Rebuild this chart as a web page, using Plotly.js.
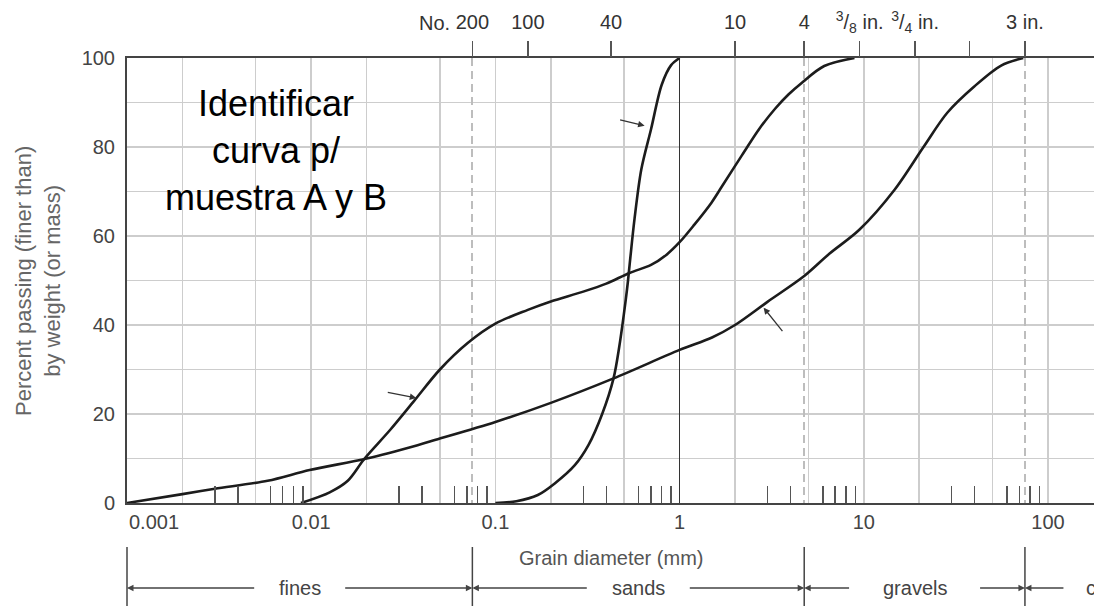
<!DOCTYPE html>
<html><head><meta charset="utf-8">
<script src="https://cdn.plot.ly/plotly-3.0.1.min.js"></script>
<style>html,body{margin:0;padding:0;background:#fff}#chart{width:1094px;height:606px}</style>
</head><body><div id="chart"></div>
<script>
// ---- data (grain diameter in mm, percent passing) ----
const sizeSteep = [0.1,0.13,0.17,0.21,0.27,0.32,0.38,0.438,0.47,0.51,0.525,0.54,0.57,0.62,0.70,0.80,0.90,1.0];
const passSteep = [0,0.4,1.8,4.4,8.5,13,20,28,35,45.6,50,55,64,75,84,94,98.4,100];
const sizeGap = [0.0088,0.0126,0.0158,0.0195,0.0268,0.0363,0.05,0.071,0.1,0.15,0.2,0.3,0.4,0.535,0.7,0.85,1.0,1.2,1.49,1.69,2.17,2.7,3.3,3.9,4.6,6.1,8.9];
const passGap = [0,2.4,5,10,16.4,23,30,36,40.3,43.4,45.3,47.5,49.3,51.7,53.5,55.8,58.6,62.5,67.5,71,78,84,88.6,91.8,94.4,98.2,100];
const sizeWell = [0.001,0.002,0.003,0.0058,0.0098,0.02,0.0378,0.0474,0.1,0.2,0.438,1.0,1.5,2.0,3.0,4.75,6.5,9.46,14.7,21.1,28.4,39.8,55.7,73.4];
const passWell = [0,2,3.2,5,7.4,10,13,14.2,18.2,22.5,28,34.4,37.2,40,45.2,51,56,61.4,70.4,80,87.7,93.6,98.3,100];

// ---- axis ticks ----
const gridVals = [0.002,0.005,0.01,0.02,0.05,0.1,0.2,0.5,1,2,5,10,20,50,100];
const decadeVals = [0.01,0.1,1,10,100];
const decadeLabels = ['0.01','0.1','1','10','100'];
const firstDecadeLabel = '0.001';
const minorVals = [0.003,0.004,0.006,0.007,0.008,0.009,
                   0.03,0.04,0.06,0.07,0.08,0.09,
                   0.3,0.4,0.6,0.7,0.8,0.9,
                   3,4,6,7,8,9,
                   30,40,60,70,80,90];
const sieveSizes = [0.075,0.15,0.425,2.0,4.75,9.5,19,37.5,75];
const sieveLabels = ['200','100','40','10','4','<sup>3</sup>/<sub>8</sub> in.','<sup>3</sup>/<sub>4</sub> in.','','3 in.'];
const sieveLabelPrefix = 'No.';
const boundaryVals = [0.075,4.75,75];
const yVals = [0,10,20,30,40,50,60,70,80,90,100];
const yLabels = ['0','','20','','40','','60','','80','','100'];
const classBounds = [0.001,0.075,4.75,75];
const classNames = ['fines','sands','gravels'];
const lastClassName = 'cobbles';

// ---- geometry helpers ----
const X0 = -3, X1 = 2.25;
const L = 127, T = 58, W = 1094 - 127, H = 445;
const lg = Math.log10;
const pxOf = v => L + (lg(v) - X0) / (X1 - X0) * W;
const pX = p => (p - L) / W;
const pY = p => (T + H - p) / H;

const FONT = 'Liberation Sans, Arial, Helvetica, sans-serif';
const curveLine = {color:'#1c1c1c', width:2.6, shape:'spline', smoothing:0.9};
const traces = [
  {x:sizeWell, y:passWell, mode:'lines', line:curveLine, hoverinfo:'skip', name:'well'},
  {x:sizeGap, y:passGap, mode:'lines', line:curveLine, hoverinfo:'skip', name:'gap'},
  {x:sizeSteep, y:passSteep, mode:'lines', line:curveLine, hoverinfo:'skip', name:'uniform'}
];
// carrier traces so that the overlay axes get drawn
[['x2',sieveSizes],['x3',minorVals],['x4',boundaryVals],['x5',decadeVals]].forEach(a => traces.push(
  {x:a[1], y:a[1].map(() => null), xaxis:a[0], yaxis:'y', mode:'lines', hoverinfo:'skip', showlegend:false}));

// white patches where original labels were erased
const eraseBoxes = [[128,71,422,228],[420,88,617,150],[131,362,389,424],[781,318,1036,380]];
const shapes = eraseBoxes.map(b => ({type:'rect', xref:'paper', yref:'paper',
  x0:pX(b[0]), x1:pX(b[2]), y0:pY(b[3]), y1:pY(b[1]), fillcolor:'#ffffff', line:{width:0}, layer:'between'}));
// bracket separators
classBounds.forEach(v => shapes.push({type:'line', xref:'paper', yref:'paper',
  x0:pX(pxOf(v)), x1:pX(pxOf(v)), y0:pY(547), y1:pY(610), line:{color:'#444', width:1.5}}));

const annotations = [];
const A = o => annotations.push(Object.assign({xanchor:'center', yanchor:'middle'}, o));
A({xref:'paper', yref:'paper', x:pX(276), y:pY(150), text:'Identificar<br>curva p/<br>muestra A y B',
  showarrow:false, align:'center', font:{family:FONT, size:36, color:'#000'}});
A({xref:'paper', yref:'paper', x:pX(38), y:pY(281), text:'Percent passing (finer than)<br>by weight (or mass)',
  textangle:-90, showarrow:false, font:{family:FONT, size:22, color:'#666'}});
A({xref:'paper', yref:'paper', x:pX(611), y:pY(558), text:'Grain diameter (mm)',
  showarrow:false, font:{family:FONT, size:20, color:'#555'}});
A({xref:'x', yref:'paper', x:lg(classBounds[0]), xanchor:'left', y:pY(522), text:firstDecadeLabel,
  showarrow:false, font:{family:FONT, size:20, color:'#444'}});
A({xref:'x', yref:'paper', x:lg(sieveSizes[0]), xanchor:'right', xshift:-20, y:pY(23), text:sieveLabelPrefix,
  showarrow:false, font:{family:FONT, size:20, color:'#333'}});
// pointer arrows left near the curves
const pointers = [[0.646,84.8,-26,-6],[0.0372,23.6,-30,-6],[2.86,43.9,20,25]];
pointers.forEach(p => annotations.push({xref:'x', yref:'y', x:lg(p[0]), y:p[1], ax:p[2], ay:p[3], text:'',
  showarrow:true, arrowhead:2, arrowsize:1, arrowwidth:1.3, arrowcolor:'#333'}));
// soil class brackets
const gaps = [44,50,64];
const yB = pY(588);
const arrowStyle = {showarrow:true, arrowhead:2, arrowsize:1, arrowwidth:1.3, arrowcolor:'#444', standoff:0, text:''};
classNames.forEach((n,i) => {
  const a = pxOf(classBounds[i]), b = pxOf(classBounds[i+1]);
  const c = (a + b) / 2;
  A({xref:'paper', yref:'paper', x:pX(c), y:yB, text:n, showarrow:false,
    font:{family:FONT, size:20, color:'#444'}});
  annotations.push(Object.assign({xref:'paper', yref:'paper', x:pX(a), y:yB, ax:(c-gaps[i])-a, ay:0}, arrowStyle));
  annotations.push(Object.assign({xref:'paper', yref:'paper', x:pX(b), y:yB, ax:(c+gaps[i])-b, ay:0}, arrowStyle));
});
const lastB = pxOf(classBounds[3]);
annotations.push(Object.assign({xref:'paper', yref:'paper', x:pX(lastB), y:yB, ax:40, ay:0}, arrowStyle));
A({xref:'paper', yref:'paper', x:pX(1084), xanchor:'left', y:yB, text:lastClassName, showarrow:false,
  font:{family:FONT, size:20, color:'#444'}});

const baseX = {type:'log', range:[X0,X1], fixedrange:true, zeroline:false};
const layout = {
  width:1094, height:606,
  margin:{l:L, r:0, t:T, b:606-T-H},
  paper_bgcolor:'#fff', plot_bgcolor:'#fff',
  showlegend:false,
  font:{family:FONT},
  xaxis:Object.assign({}, baseX, {
    tickvals:gridVals,
    ticktext:gridVals.map(v => { const k = decadeVals.indexOf(v); return k >= 0 ? decadeLabels[k] : ''; }),
    ticks:'', showgrid:true, gridcolor:'#cdcdcd', gridwidth:1.5,
    showline:true, mirror:true, linecolor:'#444', linewidth:2,
    tickfont:{size:20, color:'#444'}, ticklabelstandoff:0
  }),
  xaxis2:Object.assign({}, baseX, {
    overlaying:'x', anchor:'y', side:'top', tickvals:sieveSizes, ticktext:sieveLabels,
    ticks:'outside', ticklen:16, tickwidth:1.5, tickcolor:'#555',
    showgrid:false, showline:false, tickfont:{size:20, color:'#333'}, ticklabelstandoff:4
  }),
  xaxis3:Object.assign({}, baseX, {
    overlaying:'x', anchor:'y', side:'bottom', tickvals:minorVals,
    ticks:'inside', ticklen:17, tickwidth:1.5, tickcolor:'#555',
    showticklabels:false, showgrid:false, showline:false
  }),
  xaxis4:Object.assign({}, baseX, {
    overlaying:'x', anchor:'y', tickvals:boundaryVals, ticks:'', showticklabels:false,
    showgrid:true, gridcolor:'#bdbdbd', gridwidth:2, griddash:'8px,5px', showline:false
  }),
  xaxis5:Object.assign({}, baseX, {
    overlaying:'x', anchor:'y', tickvals:[decadeVals[2]], ticks:'', showticklabels:false,
    showgrid:true, gridcolor:'#333', gridwidth:1.6, showline:false
  }),
  yaxis:{range:[0,100], fixedrange:true, tickvals:yVals, ticktext:yLabels, ticks:'',
    showgrid:true, gridcolor:'#cdcdcd', gridwidth:1.5, zeroline:false,
    showline:true, linecolor:'#444', linewidth:2,
    tickfont:{size:20, color:'#444'}, ticklabelstandoff:6},
  shapes:shapes,
  annotations:annotations
};
Plotly.newPlot('chart', traces, layout, {staticPlot:true, displayModeBar:false});
</script>
</body></html>
